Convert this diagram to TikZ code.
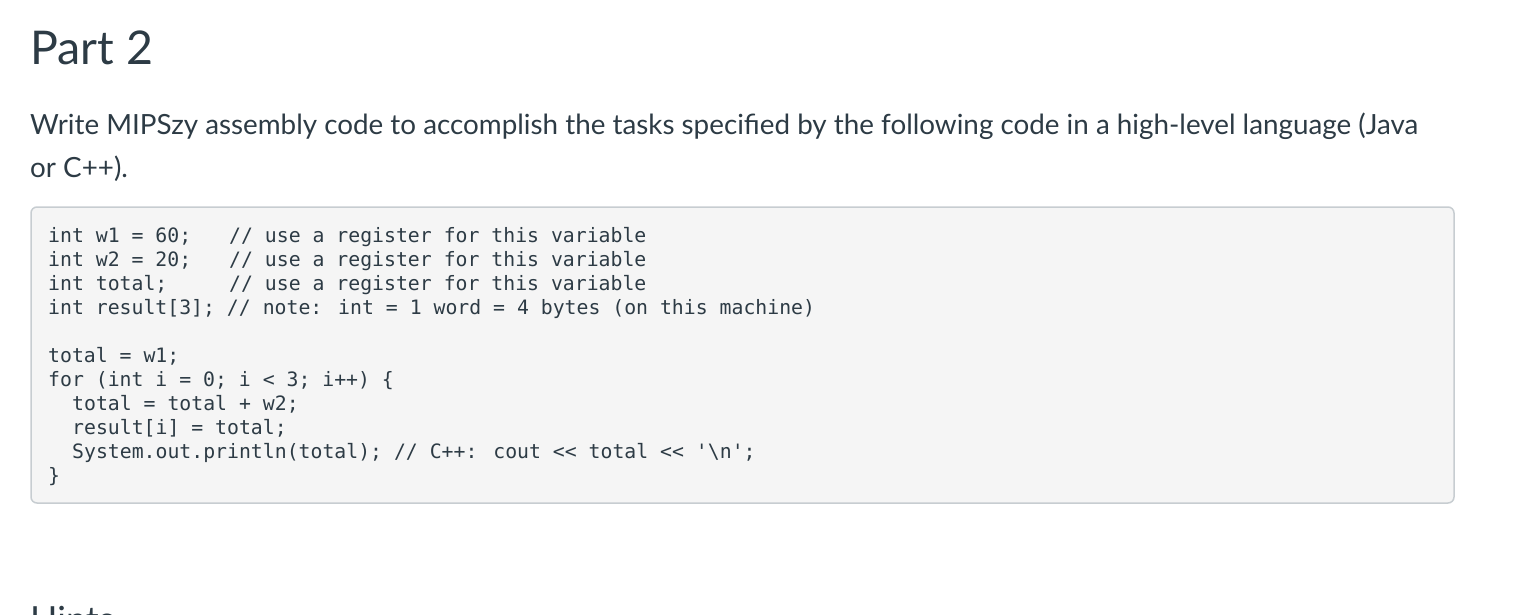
\documentclass[tikz,border=0pt]{standalone}
\usepackage{fontspec}
\setmainfont{Lato}
\newfontfamily\codefont{DejaVu Sans Mono}
\definecolor{txt}{HTML}{2D3B45}
\definecolor{boxbg}{HTML}{F5F5F5}
\definecolor{boxln}{HTML}{C7CDD1}
\begin{document}
\begin{tikzpicture}[x=1pt,y=-1pt,
  tx/.style={anchor=base west,inner sep=0,text=txt},
  cd/.style={tx,font=\codefont\fontsize{19.8}{24}\selectfont}]
\useasboundingbox (0,0) rectangle (1532,614);
\clip (0,0) rectangle (1532,614);
\node[tx,font=\fontsize{46.5}{50}\selectfont] (title) at (30,64) {Part 2};
\node[tx,font=\fontsize{27.8}{30}\selectfont] (p1) at (30,134) {Write MIPSzy assembly code to accomplish the tasks specified by the following code in a high-level language (Java};
\node[tx,font=\fontsize{27.8}{30}\selectfont] (p2) at (30,177) {or C++).};
\draw[boxln,fill=boxbg,line width=1.5,rounded corners=6] (31,207) rectangle (1454,503);
\node[cd] (l1) at (48,242) {int w1 = 60;};
\node[cd] (c1) at (229,242) {// use a register for this variable};
\node[cd] (l2) at (48,266) {int w2 = 20;};
\node[cd] (c2) at (229,266) {// use a register for this variable};
\node[cd] (l3) at (48,290) {int total;};
\node[cd] (c3) at (229,290) {// use a register for this variable};
\node[cd] (l4) at (48,314) {int result[3]; // note: int = 1 word = 4 bytes (on this machine)};
\node[cd] (l5) at (48,362) {total = w1;};
\node[cd] (l6) at (48,386) {for (int i = 0; i < 3; i++) \{};
\node[cd] (l7) at (72,410) {total = total + w2;};
\node[cd] (l8) at (72,434) {result[i] = total;};
\node[cd] (l9) at (72,458) {System.out.println(total); // C++: cout << total << '\textbackslash n';};
\node[cd] (l10) at (48,482) {\}};
\node[tx,font=\fontsize{36}{40}\selectfont] (hints) at (30,632) {Hints};
\end{tikzpicture}
\end{document}
